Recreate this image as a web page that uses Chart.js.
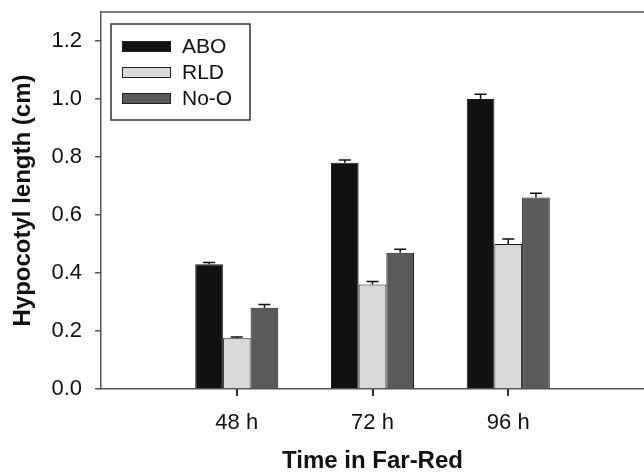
<!DOCTYPE html>
<html lang="en">
<head>
<meta charset="UTF-8">
<title>Hypocotyl length</title>
<script src="https://cdn.jsdelivr.net/npm/chart.js"></script>
<style>
  html, body { margin: 0; padding: 0; background: #fff; }
  canvas { display: block; }
</style>
</head>
<body>
<canvas id="chart" width="644" height="473"></canvas>
<script>
// values (cm)
const times = ['48 h', '72 h', '96 h'];
const abo = [0.43, 0.78, 1.00];
const rld = [0.175, 0.36, 0.50];
const noO = [0.28, 0.47, 0.66];
// upper error bars (SE)
const aboErr = [0.006, 0.010, 0.016];
const rldErr = [0.004, 0.011, 0.017];
const noOErr = [0.011, 0.012, 0.015];
const yTicks = [0, 0.2, 0.4, 0.6, 0.8, 1.0, 1.2];

// empty slot on both sides so the groups sit like in the original
const labels = ['', ...times, ''];
const pad = arr => [null, ...arr, null];

const FONT = "'Liberation Sans', Arial, sans-serif";

// draws the upper half of the error bars
const errorBars = {
    id: 'errorBars',
    afterDatasetsDraw(chart) {
        const ctx = chart.ctx, y = chart.scales.y;
        ctx.save();
        ctx.strokeStyle = '#111';
        ctx.lineWidth = 1.5;
        chart.data.datasets.forEach((ds, i) => {
            chart.getDatasetMeta(i).data.forEach((bar, j) => {
                const v = ds.data[j], e = ds.errors[j];
                if (v == null || e == null) return;
                const top = y.getPixelForValue(v + e);
                ctx.beginPath();
                ctx.moveTo(bar.x, bar.y);
                ctx.lineTo(bar.x, top);
                ctx.moveTo(bar.x - 6, top);
                ctx.lineTo(bar.x + 6, top);
                ctx.stroke();
            });
        });
        ctx.restore();
    }
};

// top frame line, x tick marks under the groups, boxed legend
const frameAndLegend = {
    id: 'frameAndLegend',
    afterDraw(chart) {
        const ctx = chart.ctx, a = chart.chartArea, x = chart.scales.x;
        ctx.save();
        ctx.strokeStyle = '#555';
        ctx.lineWidth = 1.5;
        ctx.beginPath();
        ctx.moveTo(a.left, a.top);
        ctx.lineTo(chart.width, a.top);
        ctx.stroke();

        ctx.strokeStyle = '#333';
        ctx.lineWidth = 2;
        ctx.beginPath();
        times.forEach((t, i) => {
            const px = Math.round(x.getPixelForValue(i + 1));
            ctx.moveTo(px, a.bottom);
            ctx.lineTo(px, a.bottom + 7);
        });
        ctx.stroke();

        // legend box
        ctx.strokeStyle = '#333';
        ctx.lineWidth = 1.5;
        ctx.strokeRect(111, 24, 139, 96);
        ctx.font = '21px ' + FONT;
        ctx.textBaseline = 'middle';
        ctx.textAlign = 'left';
        chart.data.datasets.forEach((ds, i) => {
            const top = 41 + i * 26;
            ctx.fillStyle = ds.backgroundColor;
            ctx.fillRect(122, top, 49, 11);
            ctx.lineWidth = 1;
            ctx.strokeStyle = '#222';
            ctx.strokeRect(122.5, top + 0.5, 48, 10);
            ctx.fillStyle = '#111';
            ctx.fillText(ds.label, 182, top + 6);
        });
        ctx.restore();
    }
};

new Chart(document.getElementById('chart'), {
    type: 'bar',
    data: {
        labels: labels,
        datasets: [
            { label: 'ABO', data: pad(abo), errors: pad(aboErr), backgroundColor: '#111111' },
            { label: 'RLD', data: pad(rld), errors: pad(rldErr), backgroundColor: '#d9d9d9' },
            { label: 'No-O', data: pad(noO), errors: pad(noOErr), backgroundColor: '#5a5a5a' }
        ]
    },
    options: {
        responsive: false,
        animation: false,
        datasets: {
            bar: {
                categoryPercentage: 0.612,
                barPercentage: 1,
                borderColor: '#1a1a1a',
                borderWidth: 1
            }
        },
        layout: { padding: { top: 12, right: 0, left: 0, bottom: 0 } },
        plugins: {
            legend: { display: false },
            tooltip: { enabled: false }
        },
        scales: {
            x: {
                offset: false,
                afterFit: s => { s.height = 84; s.paddingLeft = 0; s.paddingRight = 0; },
                grid: {
                    offset: false,
                    drawOnChartArea: false,
                    tickLength: 6,
                    color: 'rgba(0,0,0,0)'
                },
                border: { color: '#555', width: 1.5 },
                ticks: {
                    autoSkip: false,
                    maxRotation: 0,
                    padding: 15,
                    color: '#111',
                    font: { family: FONT, size: 22 }
                },
                title: {
                    display: true,
                    text: 'Time in Far-Red',
                    color: '#111',
                    font: { family: FONT, size: 24, weight: 'bold', lineHeight: 1.0 },
                    padding: { top: 0, bottom: 0 }
                }
            },
            y: {
                min: 0,
                max: 1.3,
                afterFit: s => { s.width = 101; s.paddingTop = 0; s.paddingBottom = 0; },
                afterBuildTicks: s => { s.ticks = yTicks.map(v => ({ value: v })); },
                grid: {
                    drawOnChartArea: false,
                    tickLength: 6,
                    lineWidth: 1.5,
                    color: '#555'
                },
                border: { color: '#555', width: 1.5 },
                ticks: {
                    padding: 13,
                    color: '#111',
                    font: { family: FONT, size: 22 },
                    callback: v => Number(v).toFixed(1)
                },
                title: {
                    display: true,
                    text: 'Hypocotyl length (cm)',
                    color: '#111',
                    font: { family: FONT, size: 24, weight: 'bold', lineHeight: 1.0 },
                    padding: { top: 11, bottom: 0 }
                }
            }
        }
    },
    plugins: [errorBars, frameAndLegend]
});
</script>
</body>
</html>
